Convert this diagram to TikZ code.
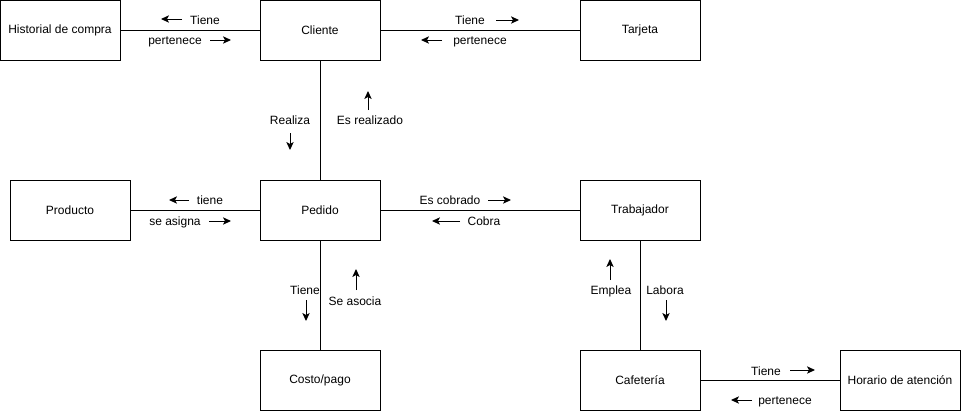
\documentclass[tikz,border=0pt]{standalone}
\usepackage{fontspec}
\setmainfont{Liberation Sans}
\usetikzlibrary{arrows.meta,positioning}

\begin{document}
\begin{tikzpicture}[
  x=0.75pt,y=-0.75pt,
  font=\fontsize{9pt}{11pt}\selectfont,
  ent/.style={draw,line width=0.75pt,minimum width=90pt,minimum height=45pt,inner sep=0pt,outer sep=0pt},
  lnk/.style={line width=0.75pt},
  lab/.style={inner sep=0pt,anchor=base},
  hint/.style={-{Stealth[length=6pt,width=5.5pt,inset=1.5pt]},line width=0.75pt}]

\useasboundingbox (0,0) rectangle (961,411);

% entities
\node[ent] (cli) at (320,30.5) {Cliente};
\node[ent,left=105pt of cli]  (hist) {Historial de compra};
\node[ent,right=150pt of cli] (tar)  {Tarjeta};
\node[ent,below=90pt of cli]  (ped)  {Pedido};
\node[ent,left=97.5pt of ped] (prod) {Producto};
\node[ent,right=150pt of ped] (trab) {Trabajador};
\node[ent,below=82.5pt of ped]  (cost) {Costo/pago};
\node[ent,below=82.5pt of trab] (caf)  {Cafetería};
\node[ent,right=105pt of caf]   (hor)  {Horario de atención};

\foreach \a/\b in {hist/cli, cli/tar, cli/ped, prod/ped, ped/trab, ped/cost, trab/caf, caf/hor}
  \draw[lnk] (\a) -- (\b);

% relation labels
\node[lab] (l1)  at (205,24)  {Tiene};
\node[lab] (l2)  at (175,44)  {pertenece};
\node[lab] (l3)  at (470,24)  {Tiene};
\node[lab] (l4)  at (480,44)  {pertenece};
\node[lab] (l5)  at (290,124) {Realiza};
\node[lab] (l6)  at (370,124) {Es realizado};
\node[lab] (l7)  at (210,204) {tiene};
\node[lab] (l8)  at (175,225) {se asigna};
\node[lab] (l9)  at (450,204) {Es cobrado};
\node[lab] (l10) at (484,225) {Cobra};
\node[lab] (l11) at (305,294) {Tiene};
\node[lab] (l12) at (355,305) {Se asocia};
\node[lab] (l13) at (611,294) {Emplea};
\node[lab] (l14) at (665,294) {Labora};
\node[lab] (l15) at (766,375) {Tiene};
\node[lab] (l16) at (785,404) {pertenece};

% direction hints
\foreach \n/\p/\q in {h1/{182,19}/{161,19}, h2/{210,40}/{231,40},
    h3/{496,20}/{519,20}, h4/{442,40}/{421,40},
    h5/{290,133}/{290,150}, h6/{368,110}/{368,91},
    h7/{189,200}/{169,200}, h8/{209,221}/{231,221},
    h9/{488,200}/{511,200}, h10/{460,221}/{432,221},
    h11/{306,300}/{306,321}, h12/{356,290}/{356,269},
    h13/{610,280}/{610,259}, h14/{666,300}/{666,321},
    h15/{790,370}/{815,370}, h16/{752,400}/{731,400}} {
  \coordinate (\n s) at (\p);
  \coordinate (\n e) at (\q);
  \draw[hint] (\n s) -- (\n e);
}
\end{tikzpicture}
\end{document}
